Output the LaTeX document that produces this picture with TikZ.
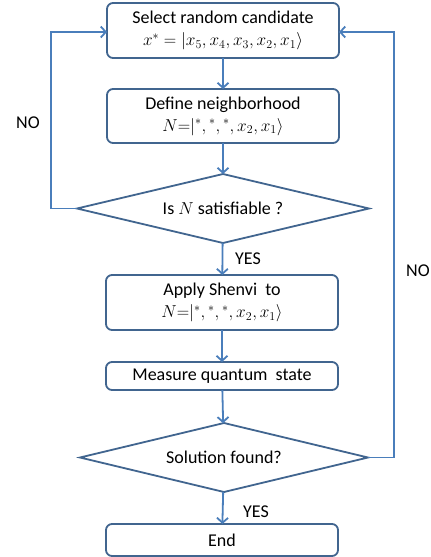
\documentclass[tikz,border=0pt]{standalone}
\usepackage{fontspec}
\setmainfont{Carlito}
\usetikzlibrary{shapes.geometric,arrows.meta}
\definecolor{boxline}{HTML}{41658F}
\definecolor{arrowline}{HTML}{4A7EBB}
\begin{document}
\begin{tikzpicture}[x=1pt,y=-1pt,
    font=\fontsize{18}{22}\selectfont,
    stepbox/.style={draw=boxline, line width=1.8pt, rounded corners=6pt, fill=white,
        minimum width=232pt, align=center, inner sep=0pt, outer sep=0pt},
    decision/.style={draw=boxline, line width=1.8pt, diamond, aspect=4.3, fill=white,
        inner sep=0pt, outer sep=0pt, minimum width=292pt, minimum height=69pt},
    arr/.style={draw=arrowline, line width=1.8pt, -{Straight Barb[length=5pt,width=11pt]}}]
    \useasboundingbox (0,0) rectangle (431,557);

    % Boxes and decisions of the search loop
    \node[stepbox, minimum height=55pt] (select) at (223,30.5)
        {Select random candidate\\ $x^{*} = |x_5, x_4, x_3, x_2, x_1\rangle$};
    \node[stepbox, minimum height=54pt] (define) at (223,116)
        {Define neighborhood\\ $N{=}|{}^{*}, {}^{*}, {}^{*}, x_2, x_1\rangle$};
    \node[decision] (satisfiable) at (223,208.5) {Is $N$ satisfiable ?};
    \node[stepbox, minimum height=55pt] (shenvi) at (222,302.5)
        {Apply Shenvi\ \ to\\ $N{=}|{}^{*}, {}^{*}, {}^{*}, x_2, x_1\rangle$};
    \node[stepbox, minimum height=28pt] (measure) at (222,376) {Measure quantum\ \ state};
    \node[decision, minimum width=288pt] (found) at (224,457.5) {Solution found?};
    \node[stepbox, minimum height=32pt] (end) at (222,540) {End};

    % Bends of the two NO loops
    \coordinate (leftbend) at (51,32);
    \coordinate (rightbend) at (394,32);

    % Connectors
    \draw[arr] (select) -- (define);
    \draw[arr] (define) -- (satisfiable);
    \draw[arr] (satisfiable) -- (shenvi);
    \draw[arr] (shenvi) -- (measure);
    \draw[arr] (measure) -- (found);
    \draw[arr] (found) -- (end);
    \draw[arr] (satisfiable.west) -| (leftbend) -- (select.west |- leftbend);
    \draw[arr] (found.east) -| (rightbend) -- (select.east |- rightbend);

    % Labels on the connectors
    \node (yes1) at (248,259) {YES};
    \node (yes2) at (256,512) {YES};
    \node (no1) at (28,123) {NO};
    \node (no2) at (418,271) {NO};
\end{tikzpicture}
\end{document}
